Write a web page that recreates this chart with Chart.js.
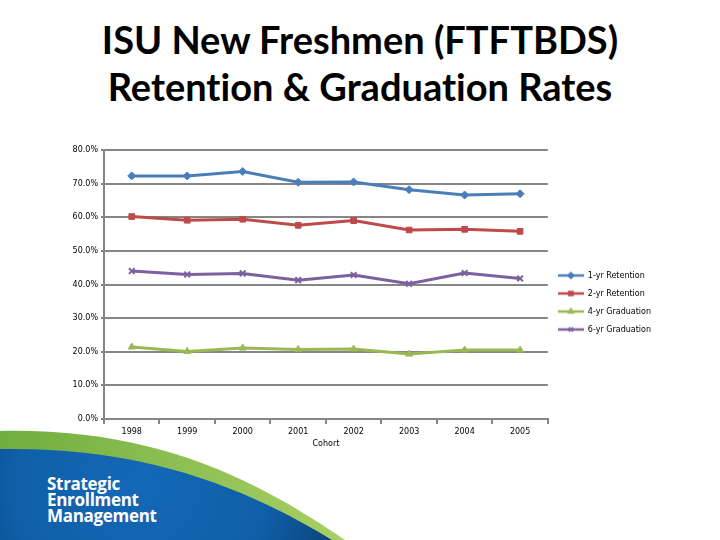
<!DOCTYPE html>
<html>
<head>
<meta charset="utf-8">
<script src="https://cdn.jsdelivr.net/npm/chart.js@4.4.0/dist/chart.umd.min.js"></script>
<style>
  body { margin: 0; width: 720px; height: 540px; overflow: hidden; background: #fff; position: relative; }
  #swoosh { position: absolute; left: 0; top: 0; }
  #title { position: absolute; left: 0; top: 16px; width: 720px; text-align: center;
           font-family: Lato, sans-serif; font-weight: bold; font-size: 38px; line-height: 47px; color: #000;
           font-variant-ligatures: none; }
  #logo { position: absolute; left: 47px; top: 476px; font-family: "Open Sans", sans-serif; font-weight: bold;
          font-size: 17px; line-height: 16px; color: #fff; letter-spacing: -0.3px; }
  #chart { position: absolute; left: 0; top: 0; }
</style>
</head>
<body>
<svg id="swoosh" width="720" height="540">
  <defs>
    <linearGradient id="green" x1="0" y1="0" x2="1" y2="0">
      <stop offset="0" stop-color="#6fae3e"/>
      <stop offset="1" stop-color="#a9cf66"/>
    </linearGradient>
    <radialGradient id="blue" cx="140" cy="485" r="230" gradientUnits="userSpaceOnUse">
      <stop offset="0" stop-color="#1468b6"/>
      <stop offset="0.55" stop-color="#0f5fa8"/>
      <stop offset="1" stop-color="#0a3a6c"/>
    </radialGradient>
  </defs>
  <path d="M0,431 C150,428 250,475 345,540 L0,540 Z" fill="url(#green)"/>
  <path d="M0,449 C130,447 230,478 332,540 L0,540 Z" fill="url(#blue)"/>
</svg>
<div id="title">ISU New Freshmen (FTFTBDS)<br>Retention &amp; Graduation Rates</div>
<div id="logo">Strategic<br>Enrollment<br>Management</div>
<canvas id="chart" width="720" height="540"></canvas>
<script>
var years = ['1998', '1999', '2000', '2001', '2002', '2003', '2004', '2005'];
var oneYrRetention = [72.3, 72.3, 73.6, 70.4, 70.5, 68.2, 66.6, 67.0];
var twoYrRetention = [60.2, 59.1, 59.4, 57.6, 59.0, 56.2, 56.4, 55.8];
var fourYrGraduation = [21.4, 20.1, 21.1, 20.7, 20.8, 19.3, 20.5, 20.5];
var sixYrGraduation = [44.0, 43.0, 43.3, 41.3, 42.8, 40.2, 43.4, 41.8];
var seriesNames = ['1-yr Retention', '2-yr Retention', '4-yr Graduation', '6-yr Graduation'];
var seriesColors = ['#4a7ebb', '#be4b48', '#98b954', '#7d60a0'];
var seriesMarkers = ['rectRot', 'rect', 'triangle', 'crossRot'];
var seriesValues = [oneYrRetention, twoYrRetention, fourYrGraduation, sixYrGraduation];

// small line + marker pictures for the legend
function legendIcon(color, marker) {
    var c = document.createElement('canvas')
    c.width = 26
    c.height = 10
    var ctx = c.getContext('2d')
    ctx.strokeStyle = color
    ctx.fillStyle = color
    ctx.lineWidth = 2.5
    ctx.beginPath()
    ctx.moveTo(0, 5)
    ctx.lineTo(26, 5)
    ctx.stroke()
    ctx.lineWidth = 1.5
    Chart.helpers.drawPoint(ctx, { pointStyle: marker, radius: 3, rotation: 0, borderWidth: 1.5 }, 13, 5)
    return c
}

var datasets = seriesNames.map(function (name, i) {
    return {
        label: name,
        data: seriesValues[i],
        borderColor: seriesColors[i],
        backgroundColor: seriesColors[i],
        borderWidth: 3,
        pointStyle: seriesMarkers[i],
        pointRadius: 4,
        pointBorderWidth: seriesMarkers[i] === 'crossRot' ? 2 : 1,
        tension: 0
    }
})

var gridGray = '#868686'

new Chart(document.getElementById('chart').getContext('2d'), {
    type: 'line',
    data: { labels: years, datasets: datasets },
    options: {
        responsive: false,
        animation: false,
        layout: { padding: { left: 60, top: 150, bottom: 91, right: 59 } },
        plugins: {
            tooltip: { enabled: false },
            legend: {
                position: 'right',
                fullSize: true,
                // blank title only nudges the items down a little
                title: { display: true, text: ' ', font: { size: 5 }, padding: 0 },
                labels: {
                    usePointStyle: true,
                    pointStyleWidth: 26,
                    padding: 10,
                    color: '#000',
                    font: { family: 'DejaVu Sans', size: 8 },
                    generateLabels: function (chart) {
                        var items = Chart.defaults.plugins.legend.labels.generateLabels(chart)
                        items.forEach(function (it, i) {
                            it.pointStyle = legendIcon(seriesColors[i], seriesMarkers[i])
                        })
                        return items
                    }
                }
            }
        },
        scales: {
            x: {
                offset: true,
                grid: { drawOnChartArea: false, offset: true, tickLength: 5, color: gridGray, lineWidth: 2 },
                border: { color: gridGray, width: 2 },
                ticks: { color: '#000', font: { family: 'DejaVu Sans', size: 8 }, padding: 3, maxRotation: 0 },
                title: { display: true, text: 'Cohort', color: '#000', font: { family: 'DejaVu Sans', size: 8 }, padding: 0 },
                afterFit: function (scale) { scale.height = 30 }
            },
            y: {
                min: 0,
                max: 80,
                ticks: {
                    stepSize: 10,
                    color: '#000',
                    font: { family: 'DejaVu Sans', size: 8 },
                    padding: 3,
                    callback: function (v) { return v.toFixed(1) + '%' }
                },
                grid: { color: gridGray, lineWidth: 2, tickLength: 3 },
                border: { color: gridGray, width: 2 },
                afterFit: function (scale) { scale.width = 44 }
            }
        }
    }
})
</script>
</body>
</html>
